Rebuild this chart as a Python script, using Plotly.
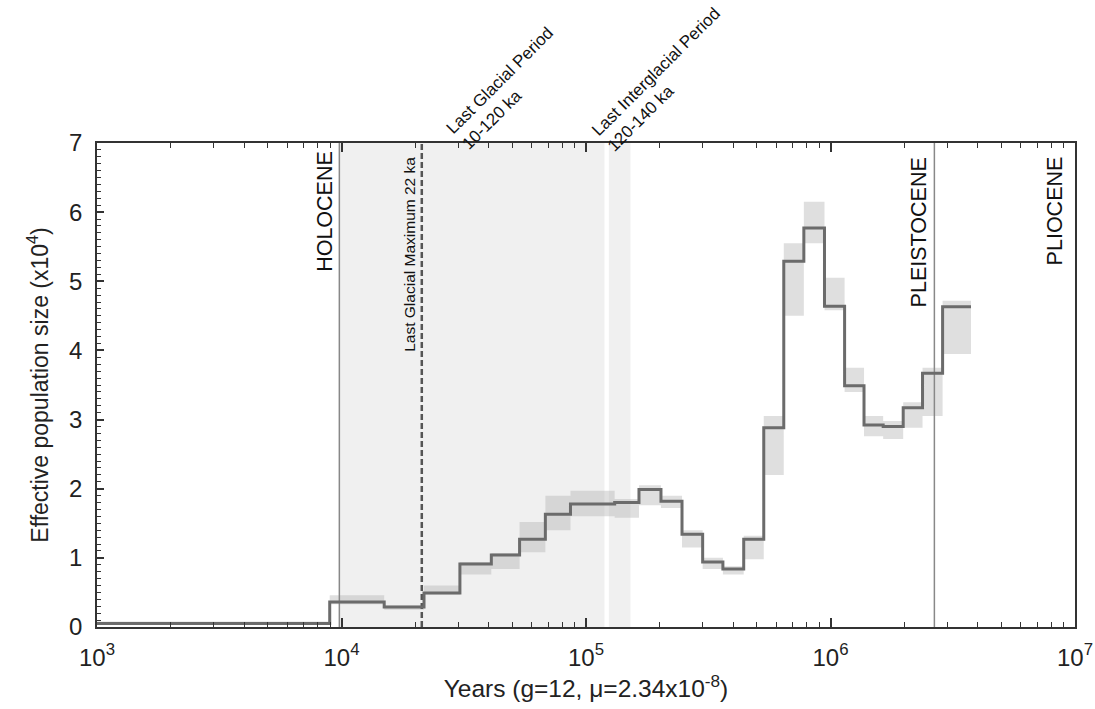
import plotly.graph_objects as go
import math

# ---------------- data ----------------
# start of each PSMC time interval (years), last value = end of last interval
edges = [1000, 8950, 14950, 21750, 30500, 41000, 53500, 68200, 86400, 131000,
         164700, 202600, 247000, 300000, 363000, 441600, 533400, 644000, 778000,
         945000, 1142000, 1371000, 1642000, 1983000, 2379000, 2874000, 3755000]
# effective population size (x10^4) in each interval
ne_main = [0.05, 0.36, 0.29, 0.49, 0.91, 1.04, 1.27, 1.63, 1.78, 1.80, 1.99, 1.82, 1.34,
           0.94, 0.84, 1.27, 2.88, 5.29, 5.77, 4.64, 3.49, 2.92, 2.90, 3.17, 3.67, 4.63]
# bootstrap spread (lower / upper envelope)
ne_low = [0.03, 0.33, 0.25, 0.47, 0.76, 0.84, 1.08, 1.40, 1.60, 1.58, 1.76, 1.72, 1.15,
          0.84, 0.76, 0.98, 2.20, 4.50, 5.55, 4.58, 3.40, 2.76, 2.72, 2.88, 3.05, 3.95]
ne_high = [0.08, 0.46, 0.31, 0.60, 0.94, 1.07, 1.52, 1.90, 1.97, 1.85, 2.05, 1.90, 1.40,
           1.00, 0.88, 1.32, 3.05, 5.55, 6.15, 5.05, 3.75, 3.05, 2.98, 3.25, 3.75, 4.72]

holocene_start = 9800
lgm = 21300
pleistocene_start = 2660000
glacial_band = [9800, 119000]
interglacial_band = [124000, 152000]

x_tickvals = [1e3, 1e4, 1e5, 1e6, 1e7]
x_ticktext = ["10<sup>3</sup>", "10<sup>4</sup>", "10<sup>5</sup>", "10<sup>6</sup>", "10<sup>7</sup>"]
y_tickvals = [0, 1, 2, 3, 4, 5, 6, 7]

FONT = "Liberation Sans, Arial, Helvetica, sans-serif"
YMAX = 7

def step_y(vals):
    return list(vals) + [vals[-1]]

fig = go.Figure()

# shaded climate periods
for band in (glacial_band, interglacial_band):
    fig.add_trace(go.Scatter(x=[band[0], band[0], band[1], band[1]], y=[0, YMAX, YMAX, 0],
                             fill="toself", fillcolor="#f0f0f0", mode="none",
                             hoverinfo="skip", showlegend=False))

# bootstrap envelope
fig.add_trace(go.Scatter(x=edges, y=step_y(ne_low), line=dict(shape="hv", width=0, color="rgba(0,0,0,0)"),
                         mode="lines", hoverinfo="skip", showlegend=False))
fig.add_trace(go.Scatter(x=edges, y=step_y(ne_high), line=dict(shape="hv", width=0, color="rgba(0,0,0,0)"),
                         mode="lines", fill="tonexty", fillcolor="rgba(175,175,175,0.4)",
                         hoverinfo="skip", showlegend=False))

# vertical markers
fig.add_trace(go.Scatter(x=[holocene_start, holocene_start], y=[0, YMAX], mode="lines",
                         line=dict(color="#888888", width=1.5), hoverinfo="skip", showlegend=False))
fig.add_trace(go.Scatter(x=[pleistocene_start, pleistocene_start], y=[0, YMAX], mode="lines",
                         line=dict(color="#888888", width=1.5), hoverinfo="skip", showlegend=False))
fig.add_trace(go.Scatter(x=[lgm, lgm], y=[0, YMAX], mode="lines",
                         line=dict(color="#555555", width=2.5, dash="6px,3px"),
                         hoverinfo="skip", showlegend=False))

# main PSMC curve
fig.add_trace(go.Scatter(x=edges, y=step_y(ne_main), mode="lines",
                         line=dict(shape="hv", color="#6b6b6b", width=3),
                         hoverinfo="skip", showlegend=False))

annotations = [
    dict(x=math.log10(holocene_start), y=1, xref="x", yref="paper", text="HOLOCENE",
         textangle=-90, xanchor="right", yanchor="top", xshift=-1, yshift=-6,
         showarrow=False, font=dict(size=21.5, color="#111111", family=FONT)),
    dict(x=math.log10(lgm), y=1, xref="x", yref="paper", text="Last Glacial Maximum 22 ka",
         textangle=-90, xanchor="right", yanchor="top", xshift=-2, yshift=-12,
         showarrow=False, font=dict(size=15.5, color="#111111", family=FONT)),
    dict(x=math.log10(pleistocene_start), y=1, xref="x", yref="paper", text="PLEISTOCENE",
         textangle=-90, xanchor="right", yanchor="top", xshift=-1, yshift=-12,
         showarrow=False, font=dict(size=21.5, color="#111111", family=FONT)),
    dict(x=6.975, y=1, xref="x", yref="paper", text="PLIOCENE",
         textangle=-90, xanchor="right", yanchor="top", yshift=-11,
         showarrow=False, font=dict(size=21.5, color="#111111", family=FONT)),
    dict(x=4.678, y=1.1136, xref="x", yref="paper", text="Last Glacial Period<br>10-120 ka",
         textangle=-45, xanchor="center", yanchor="middle", align="left",
         showarrow=False, font=dict(size=17, color="#111111", family=FONT)),
    dict(x=5.318, y=1.132, xref="x", yref="paper", text="Last Interglacial Period<br>120-140 ka",
         textangle=-45, xanchor="center", yanchor="middle", align="left",
         showarrow=False, font=dict(size=17, color="#111111", family=FONT)),
]

minor_x = [m * 10 ** d for d in range(3, 7) for m in range(2, 10)]

fig.update_layout(
    width=1095, height=709, autosize=False,
    margin=dict(l=97, r=20, t=143, b=82),
    paper_bgcolor="white", plot_bgcolor="white",
    font=dict(family=FONT, color="#222222"),
    annotations=annotations,
    xaxis=dict(type="log", range=[3, 7], tickvals=x_tickvals, ticktext=x_ticktext,
               ticks="inside", ticklen=9, tickwidth=1.5, tickcolor="#333333",
               showline=True, linecolor="#333333", linewidth=1.5, mirror="allticks",
               showgrid=False, zeroline=False, automargin=False, ticklabelstandoff=8,
               minor=dict(tickvals=minor_x, ticks="inside", ticklen=5, tickwidth=1.2,
                          tickcolor="#333333", showgrid=False),
               tickfont=dict(size=24, color="#222222", family=FONT),
               title=dict(text="Years (g=12, \u03bc=2.34x10<sup>-8</sup>)",
                          font=dict(size=24.5, color="#222222", family=FONT), standoff=2)),
    yaxis=dict(range=[0, YMAX], tickvals=y_tickvals,
               ticks="inside", ticklen=7, tickwidth=1.5, tickcolor="#333333",
               showline=True, linecolor="#333333", linewidth=1.5, mirror=True,
               showgrid=False, zeroline=False, automargin=False, ticklabelstandoff=8,
               minor=dict(dtick=0.1, ticks="inside", ticklen=4, tickwidth=1.2,
                          tickcolor="#333333", showgrid=False),
               tickfont=dict(size=24, color="#222222", family=FONT),
               title=dict(text="Effective population size (x10<sup>4</sup>)",
                          font=dict(size=23, color="#222222", family=FONT), standoff=14)),
)

# remove the browser's default page margin so the figure fills the window exactly
fig.write_html("out.html", config={"displayModeBar": False},
               post_script="document.body.style.margin='0';")
